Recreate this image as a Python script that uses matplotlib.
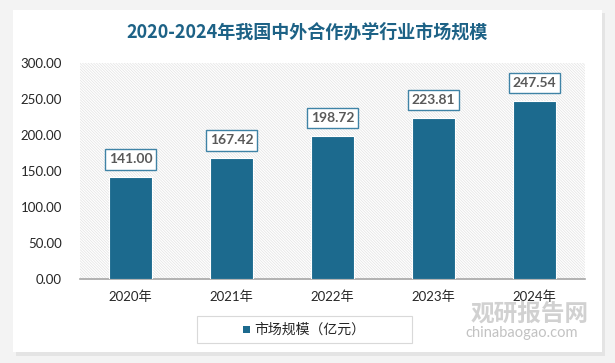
import matplotlib
matplotlib.use("Agg")
import matplotlib.pyplot as plt
from matplotlib.patches import Rectangle

plt.rcParams['font.family'] = ['Lato', 'Noto Sans CJK SC', 'DejaVu Sans']
plt.rcParams['hatch.linewidth'] = 0.5

years = ['2020年', '2021年', '2022年', '2023年', '2024年']
market_size = [141.00, 167.42, 198.72, 223.81, 247.54]
yticks = [0, 50, 100, 150, 200, 250, 300]
title = '2020-2024年我国中外合作办学行业市场规模'
legend_label = '市场规模（亿元）'

bar_color = '#1c6a8e'
W, H = 615, 363

fig = plt.figure(figsize=(W / 100, H / 100), dpi=100)
fig.patch.set_facecolor('#f3f3f3')

# white card with soft shadow
fig.patches.append(Rectangle((16 / W, 1 - 356 / H), 589 / W, 343 / H, transform=fig.transFigure,
                             facecolor='#e4e4e4', edgecolor='none', zorder=-3))
fig.patches.append(Rectangle((13 / W, 1 - 352 / H), 589 / W, 342 / H, transform=fig.transFigure,
                             facecolor='white', edgecolor='none', zorder=-2))

ax = fig.add_axes([80 / W, 1 - 279 / H, 505 / W, 216 / H])
ax.set_zorder(1)
ax.set_facecolor('white')
ax.add_patch(Rectangle((0, 0), 1, 1, transform=ax.transAxes, facecolor='white',
                       edgecolor='#e2e2e2', linewidth=0, hatch='\\' * 12, zorder=0))

x = range(len(years))
bars = ax.bar(x, market_size, width=0.43, color=bar_color, edgecolor='white', linewidth=0.8, zorder=3)

for xi, v in zip(x, market_size):
    ax.annotate(f'{v:.2f}', (xi, v), xytext=(0, 13), textcoords='offset points',
                ha='center', va='center', fontsize=10, fontweight='bold', color='#595959', zorder=5,
                bbox=dict(boxstyle='square,pad=0.3', facecolor='white', edgecolor='#3f83a6', linewidth=1.0))

ax.set_xlim(-0.5, len(years) - 0.5)
ax.set_ylim(0, 300)
ax.set_yticks(yticks)
ax.set_yticklabels([f'{t:.2f}' for t in yticks], fontsize=9.5, color='#262626')
ax.set_xticks(list(x))
ax.set_xticklabels(years, fontsize=9.5, color='#262626')
ax.tick_params(axis='both', length=0)
ax.tick_params(axis='y', pad=13)
ax.tick_params(axis='x', pad=8)
for s in ['top', 'right', 'left']:
    ax.spines[s].set_visible(False)
ax.spines['bottom'].set_color('#a6a6a6')
ax.spines['bottom'].set_linewidth(1.2)

fig.text(307 / W, 1 - 32 / H, title, ha='center', va='center', fontsize=13, fontweight='bold',
         color='#1d6286', family=['Noto Sans CJK SC', 'DejaVu Sans'])

# legend
fig.patches.append(Rectangle((197 / W, 1 - 343 / H), 215 / W, 27 / H, transform=fig.transFigure,
                             facecolor='white', edgecolor='#d9d9d9', linewidth=0.8, zorder=2))
fig.patches.append(Rectangle((243 / W, 1 - 333 / H), 7 / W, 7 / H, transform=fig.transFigure,
                             facecolor=bar_color, edgecolor='none', zorder=3))
fig.text(254 / W, 1 - 329.5 / H, legend_label, ha='left', va='center', fontsize=10, color='#262626',
         family=['Noto Sans CJK SC', 'DejaVu Sans'], zorder=4)

# watermark
fig.text(530 / W, 1 - 314 / H, '观研报告网', ha='center', va='center', fontsize=17, fontweight='bold',
         color='#b3b3b3', alpha=0.6, family=['Noto Sans CJK SC', 'DejaVu Sans'], zorder=5)
fig.text(522 / W, 1 - 333 / H, 'chinabaogao.com', ha='center', va='center', fontsize=10.5,
         color='#b3b3b3', alpha=0.8, zorder=5)

fig.savefig('out.png', dpi=100, facecolor=fig.get_facecolor())
